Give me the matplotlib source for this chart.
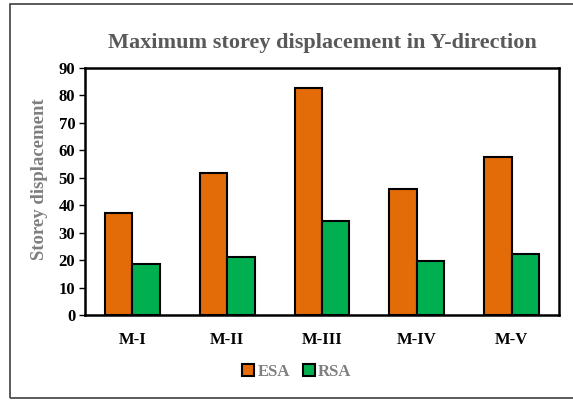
import matplotlib
matplotlib.use("Agg")
import matplotlib.pyplot as plt
import numpy as np
from matplotlib.patches import Rectangle

categories = ["M-I", "M-II", "M-III", "M-IV", "M-V"]
esa = [37.0, 51.6, 82.8, 45.8, 57.7]
rsa = [18.6, 21.3, 34.3, 19.7, 22.2]
yticks = [0, 10, 20, 30, 40, 50, 60, 70, 80, 90]

plt.rcParams['font.family'] = ['Liberation Serif', 'DejaVu Serif']

fig = plt.figure(figsize=(5.73, 4.0), dpi=100)
ax = fig.add_axes([85/573, 1 - 315/400, (559-85)/573, (315-68)/400])

x = np.arange(len(categories))
w = 0.29
orange = "#E36C09"
green = "#00B050"
ax.bar(x - w/2, esa, w, color=orange, edgecolor="black", linewidth=1.5, label="ESA")
ax.bar(x + w/2, rsa, w, color=green, edgecolor="black", linewidth=1.5, label="RSA")

ax.set_xlim(-0.5, len(categories) - 0.5)
ax.set_ylim(0, 90)
ax.set_yticks(yticks)
ax.set_yticklabels([str(t) for t in yticks], fontsize=12, fontweight="bold")
ax.set_xticks(x)
ax.set_xticklabels(categories, fontsize=12, fontweight="bold")
ax.tick_params(axis="x", length=0, pad=12)
ax.tick_params(axis="y", length=4, width=1, pad=3)
for s in ax.spines.values():
    s.set_linewidth(1.8)
    s.set_color("black")

ax.set_ylabel("Storey displacement", fontsize=13.5, fontweight="bold", color="#7f7f7f", labelpad=6)
ax.yaxis.set_label_coords(-0.078, 0.55)

fig.text(322/573, 1 - 43/400, "Maximum storey displacement in Y-direction",
         ha="center", va="center", fontsize=16, fontweight="bold", color="#595959")

leg = fig.legend(loc="center", bbox_to_anchor=(297/573, 1 - 372/400), ncol=2, frameon=False,
                 prop={"size": 12, "weight": "bold"}, handlelength=0.7, handleheight=0.7,
                 handletextpad=0.2, columnspacing=0.8)
for t in leg.get_texts():
    t.set_color("#7f7f7f")

fig.patches.append(Rectangle((10/573, 2/400), 1 - 10/573 + 0.01, 1 - 6/400, transform=fig.transFigure,
                             fill=False, edgecolor="#404040", linewidth=1.2))

fig.savefig("out.png", dpi=100)
